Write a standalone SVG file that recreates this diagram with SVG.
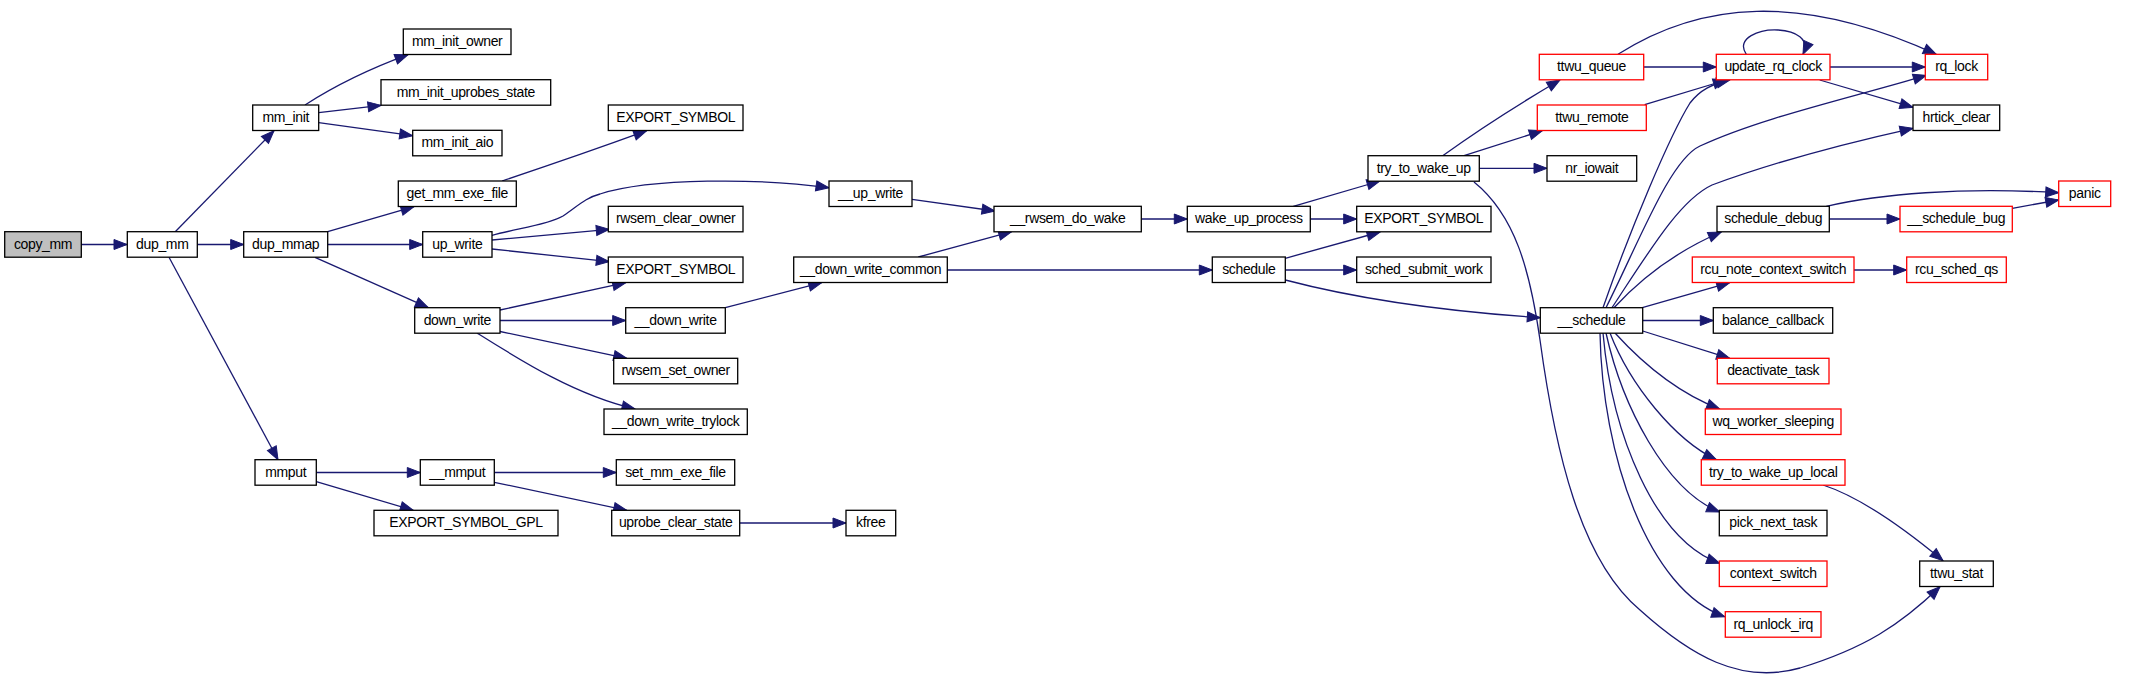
<svg xmlns="http://www.w3.org/2000/svg" width="2133" height="680" viewBox="0 0 2133 680">
<style>
.n rect{fill:#fff;stroke:#000;stroke-width:1.3}
.r rect{fill:#fff;stroke:#ff0000;stroke-width:1.3}
.root rect{fill:#bfbfbf;stroke:#000;stroke-width:1.3}
text{font-family:"Liberation Sans",Arial,sans-serif;font-size:14px;letter-spacing:-0.35px;text-anchor:middle;fill:#000}
#edges path{fill:none;stroke:#191970;stroke-width:1.3;marker-end:url(#a)}
</style>
<defs>
<marker id="a" markerWidth="15" markerHeight="12" refX="13" refY="5" orient="auto" markerUnits="userSpaceOnUse" overflow="visible">
<path d="M0,0 L13,5 L0,10 z" fill="#191970" stroke="#191970" stroke-width="1"/>
</marker>
</defs>
<rect width="2133" height="680" fill="#fff"/>
<g id="edges">
<path d="M81,244.5 L127,244.5"/>
<path d="M175,232 L274,130.7"/>
<path d="M197.3,244.5 L243.7,244.5"/>
<path d="M169,257.3 L278,459.7"/>
<path d="M305,105 Q350,76 408,54.7"/>
<path d="M318.7,112.7 L381,105.3"/>
<path d="M318.7,122.7 L412.7,135.7"/>
<path d="M327.7,231.7 L414,206.7"/>
<path d="M327.7,244.5 L422.7,244.5"/>
<path d="M315,257.3 L428.3,307.7"/>
<path d="M502,181 Q580,155 646.7,130.7"/>
<path d="M492,235.3 C520,228 550,224 563,216 C578,206 585,198 600,194 C650,178 760,178 829,187.7"/>
<path d="M492,240 L609.3,229.3"/>
<path d="M492,249 L609.3,261.7"/>
<path d="M500,310 L625.7,282.7"/>
<path d="M500,320.5 L625.7,320.5"/>
<path d="M500,331.5 L626.7,358.3"/>
<path d="M477,333 C520,360 575,395 635,409"/>
<path d="M912,199.3 L995,211"/>
<path d="M725.3,307.7 L821.7,282.7"/>
<path d="M918.3,257 L1011.7,231.7"/>
<path d="M947.3,270 L1212.3,270"/>
<path d="M316.3,472.5 L420.3,472.5"/>
<path d="M316.3,481.7 L413.3,510.3"/>
<path d="M494.3,472.5 L616.3,472.5"/>
<path d="M494.3,482.3 L626.7,510.3"/>
<path d="M739.7,523 L846,523"/>
<path d="M1141.3,219 L1187.3,219"/>
<path d="M1293.3,206.3 L1380,181"/>
<path d="M1310.3,219 L1356.7,219"/>
<path d="M1285.3,258.3 L1380,232"/>
<path d="M1285.3,270 L1356.7,270"/>
<path d="M1285.3,280 C1350,297 1440,311 1540.3,317.7"/>
<path d="M1442.7,155.7 Q1495,118 1560,80"/>
<path d="M1464,155.7 L1542.3,130.7"/>
<path d="M1479.3,168.3 L1547,168.3"/>
<path d="M1474,182 C1515,215 1530,270 1540,340 C1555,450 1580,560 1640,610 C1690,655 1740,685 1800,668 C1865,648 1900,625 1940,586.7"/>
<path d="M1643.7,67 L1716.3,67"/>
<path d="M1618,54.3 C1700,2 1800,-8 1936.3,54.3"/>
<path d="M1644.7,104.7 L1726.3,80"/>
<path d="M1746.3,54.3 C1735,38 1760,29 1778,30 C1796,31 1810,39 1803,54.3"/>
<path d="M1830,67 L1925.3,67"/>
<path d="M1819.7,80 L1913,107.3"/>
<path d="M1603,307.7 C1630,230 1670,135 1690,103 C1700,90 1712,84 1729.7,80"/>
<path d="M1606,307.7 C1640,240 1670,160 1700,146 C1760,118 1850,98 1926.3,75.3"/>
<path d="M1612,307.7 C1650,250 1680,200 1712,185 C1780,160 1860,140 1913,128.3"/>
<path d="M1614,307.7 Q1660,258 1721.3,232"/>
<path d="M1642.3,307.7 L1729.7,282.7"/>
<path d="M1642.7,320.5 L1713.3,320.5"/>
<path d="M1642.7,331 L1729.7,358.3"/>
<path d="M1615,333 Q1665,388 1719.7,409"/>
<path d="M1610,333 C1630,385 1675,440 1716.3,459.7"/>
<path d="M1606,333 C1622,405 1665,490 1719.7,512"/>
<path d="M1603,333 C1612,435 1655,540 1719.7,563.3"/>
<path d="M1600,333 C1602,455 1648,590 1724.7,616.7"/>
<path d="M1826.3,206.3 C1880,194 1960,187 2058.7,192.7"/>
<path d="M1829.3,219 L1900,219"/>
<path d="M2012.3,208.3 L2058.7,200"/>
<path d="M1854,270 L1906.7,270"/>
<path d="M1823,485 C1860,497 1900,525 1943,560.7"/>
</g>
<g id="copy_mm" class="root"><rect x="4.7" y="231.7" width="76.6" height="25.5"/><text x="43" y="248.7">copy_mm</text></g>
<g id="dup_mm" class="n"><rect x="127.3" y="231.7" width="70" height="25.5"/><text x="162.3" y="248.7">dup_mm</text></g>
<g id="mm_init" class="n"><rect x="252.7" y="105" width="66" height="25.5"/><text x="285.7" y="122">mm_init</text></g>
<g id="mm_init_owner" class="n"><rect x="403.3" y="29" width="107.7" height="25.5"/><text x="457.2" y="46">mm_init_owner</text></g>
<g id="mm_init_uprobes_state" class="n"><rect x="381" y="79.7" width="169.7" height="25.5"/><text x="465.8" y="96.7">mm_init_uprobes_state</text></g>
<g id="mm_init_aio" class="n"><rect x="412.7" y="130.3" width="89.3" height="25.5"/><text x="457.3" y="147.3">mm_init_aio</text></g>
<g id="get_mm_exe_file" class="n"><rect x="398.3" y="181" width="118" height="25.5"/><text x="457.3" y="198">get_mm_exe_file</text></g>
<g id="dup_mmap" class="n"><rect x="243.7" y="231.7" width="84" height="25.5"/><text x="285.7" y="248.7">dup_mmap</text></g>
<g id="up_write" class="n"><rect x="422.7" y="231.7" width="69.3" height="25.5"/><text x="457.3" y="248.7">up_write</text></g>
<g id="down_write" class="n"><rect x="414.7" y="307.7" width="85.3" height="25.5"/><text x="457.3" y="324.7">down_write</text></g>
<g id="mmput" class="n"><rect x="255" y="459.7" width="61.3" height="25.5"/><text x="285.7" y="476.7">mmput</text></g>
<g id="__mmput" class="n"><rect x="420.3" y="459.7" width="74" height="25.5"/><text x="457.3" y="476.7">__mmput</text></g>
<g id="EXPORT_SYMBOL_GPL" class="n"><rect x="374" y="510.3" width="184" height="25.5"/><text x="466" y="527.3">EXPORT_SYMBOL_GPL</text></g>
<g id="EXPORT_SYMBOL_1" class="n"><rect x="608.3" y="105" width="134.7" height="25.5"/><text x="675.7" y="122">EXPORT_SYMBOL</text></g>
<g id="__up_write" class="n"><rect x="829" y="181" width="83" height="25.5"/><text x="870.5" y="198">__up_write</text></g>
<g id="rwsem_clear_owner" class="n"><rect x="608.3" y="206.3" width="134.7" height="25.5"/><text x="675.7" y="223.3">rwsem_clear_owner</text></g>
<g id="EXPORT_SYMBOL_2" class="n"><rect x="608.3" y="257" width="134.7" height="25.5"/><text x="675.7" y="274">EXPORT_SYMBOL</text></g>
<g id="__down_write_common" class="n"><rect x="793.7" y="257" width="153.6" height="25.5"/><text x="870.5" y="274">__down_write_common</text></g>
<g id="__down_write" class="n"><rect x="625.7" y="307.7" width="99.6" height="25.5"/><text x="675.5" y="324.7">__down_write</text></g>
<g id="rwsem_set_owner" class="n"><rect x="613.7" y="358.3" width="124" height="25.5"/><text x="675.7" y="375.3">rwsem_set_owner</text></g>
<g id="__down_write_trylock" class="n"><rect x="604" y="409" width="143.3" height="25.5"/><text x="675.7" y="426">__down_write_trylock</text></g>
<g id="set_mm_exe_file" class="n"><rect x="616.3" y="459.7" width="118.4" height="25.5"/><text x="675.5" y="476.7">set_mm_exe_file</text></g>
<g id="uprobe_clear_state" class="n"><rect x="611.7" y="510.3" width="128" height="25.5"/><text x="675.7" y="527.3">uprobe_clear_state</text></g>
<g id="kfree" class="n"><rect x="846" y="510.3" width="49.7" height="25.5"/><text x="870.8" y="527.3">kfree</text></g>
<g id="__rwsem_do_wake" class="n"><rect x="994" y="206.3" width="147.3" height="25.5"/><text x="1067.7" y="223.3">__rwsem_do_wake</text></g>
<g id="wake_up_process" class="n"><rect x="1187.3" y="206.3" width="123" height="25.5"/><text x="1248.8" y="223.3">wake_up_process</text></g>
<g id="try_to_wake_up" class="n"><rect x="1368" y="155.7" width="111.3" height="25.5"/><text x="1423.7" y="172.7">try_to_wake_up</text></g>
<g id="EXPORT_SYMBOL_3" class="n"><rect x="1356.7" y="206.3" width="134.3" height="25.5"/><text x="1423.8" y="223.3">EXPORT_SYMBOL</text></g>
<g id="schedule" class="n"><rect x="1212.3" y="257" width="73" height="25.5"/><text x="1248.8" y="274">schedule</text></g>
<g id="sched_submit_work" class="n"><rect x="1356.7" y="257" width="134.3" height="25.5"/><text x="1423.8" y="274">sched_submit_work</text></g>
<g id="ttwu_queue" class="r"><rect x="1539.3" y="54.3" width="104.4" height="25.5"/><text x="1591.5" y="71.3">ttwu_queue</text></g>
<g id="ttwu_remote" class="r"><rect x="1537.3" y="105" width="109" height="25.5"/><text x="1591.8" y="122">ttwu_remote</text></g>
<g id="nr_iowait" class="n"><rect x="1547" y="155.7" width="89.7" height="25.5"/><text x="1591.8" y="172.7">nr_iowait</text></g>
<g id="__schedule" class="n"><rect x="1540.3" y="307.7" width="102.4" height="25.5"/><text x="1591.5" y="324.7">__schedule</text></g>
<g id="update_rq_clock" class="r"><rect x="1716.3" y="54.3" width="113.7" height="25.5"/><text x="1773.2" y="71.3">update_rq_clock</text></g>
<g id="rq_lock" class="r"><rect x="1925.3" y="54.3" width="62.4" height="25.5"/><text x="1956.5" y="71.3">rq_lock</text></g>
<g id="hrtick_clear" class="n"><rect x="1913" y="105" width="86.7" height="25.5"/><text x="1956.3" y="122">hrtick_clear</text></g>
<g id="schedule_debug" class="n"><rect x="1717" y="206.3" width="112.3" height="25.5"/><text x="1773.2" y="223.3">schedule_debug</text></g>
<g id="__schedule_bug" class="r"><rect x="1900" y="206.3" width="112.3" height="25.5"/><text x="1956.2" y="223.3">__schedule_bug</text></g>
<g id="panic" class="r"><rect x="2058.7" y="181" width="52" height="25.5"/><text x="2084.7" y="198">panic</text></g>
<g id="rcu_note_context_switch" class="r"><rect x="1692.3" y="257" width="161.7" height="25.5"/><text x="1773.2" y="274">rcu_note_context_switch</text></g>
<g id="rcu_sched_qs" class="r"><rect x="1906.7" y="257" width="99.6" height="25.5"/><text x="1956.5" y="274">rcu_sched_qs</text></g>
<g id="balance_callback" class="n"><rect x="1713.3" y="307.7" width="119.4" height="25.5"/><text x="1773" y="324.7">balance_callback</text></g>
<g id="deactivate_task" class="r"><rect x="1717.3" y="358.3" width="111.7" height="25.5"/><text x="1773.2" y="375.3">deactivate_task</text></g>
<g id="wq_worker_sleeping" class="r"><rect x="1705.3" y="409" width="135.7" height="25.5"/><text x="1773.2" y="426">wq_worker_sleeping</text></g>
<g id="try_to_wake_up_local" class="r"><rect x="1701.3" y="459.7" width="143.7" height="25.5"/><text x="1773.2" y="476.7">try_to_wake_up_local</text></g>
<g id="pick_next_task" class="n"><rect x="1719.3" y="510.3" width="107.7" height="25.5"/><text x="1773.2" y="527.3">pick_next_task</text></g>
<g id="context_switch" class="r"><rect x="1719.3" y="561" width="107.7" height="25.5"/><text x="1773.2" y="578">context_switch</text></g>
<g id="ttwu_stat" class="n"><rect x="1919.7" y="561" width="73.6" height="25.5"/><text x="1956.5" y="578">ttwu_stat</text></g>
<g id="rq_unlock_irq" class="r"><rect x="1725.3" y="611.7" width="95.7" height="25.5"/><text x="1773.2" y="628.7">rq_unlock_irq</text></g>
</svg>
